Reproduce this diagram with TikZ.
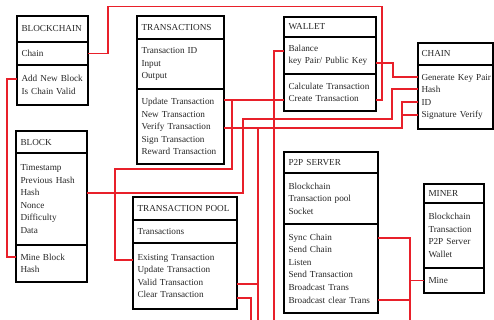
\documentclass[tikz,border=0pt]{standalone}
\usepackage{fontspec}
\setmainfont{Liberation Serif}
\usetikzlibrary{calc}
\definecolor{wirered}{RGB}{232,32,42}

\begin{document}
\begin{tikzpicture}[x=1pt,y=-1pt,
  umlbox/.style={draw=black, line width=1.4pt, anchor=north west, outer sep=0pt,
    inner xsep=4.5pt, inner ysep=0pt, align=left, text=black!85,
    font=\fontsize{9.2}{12.6}\selectfont},
  wire/.style={draw=wirered, line width=1.3pt}]
\useasboundingbox (0,0) rectangle (494,320);
\coordinate (bottom) at (0,326);

% BLOCKCHAIN
\node[umlbox, text width=62pt, minimum height=26pt] (blockchain) at (17,16) {BLOCKCHAIN};
\node[umlbox, text width=62pt, minimum height=23pt] (blockchain-attr) at (blockchain.south west) {Chain};
\node[umlbox, text width=62pt, minimum height=40pt] (blockchain-ops) at (blockchain-attr.south west) {Add New Block\\Is Chain Valid};

% TRANSACTIONS
\node[umlbox, text width=78pt, minimum height=23pt] (transactions) at (137,16) {TRANSACTIONS};
\node[umlbox, text width=78pt, minimum height=50pt] (transactions-attr) at (transactions.south west) {Transaction ID\\Input\\Output};
\node[umlbox, text width=78pt, minimum height=75pt] (transactions-ops) at (transactions-attr.south west) {Update Transaction\\New Transaction\\Verify Transaction\\Sign Transaction\\Reward Transaction};

% WALLET
\node[umlbox, text width=83pt, minimum height=20pt] (wallet) at (284,17) {WALLET};
\node[umlbox, text width=83pt, minimum height=37pt] (wallet-attr) at (wallet.south west) {Balance\\key Pair/ Public Key};
\node[umlbox, text width=83pt, minimum height=37pt] (wallet-ops) at (wallet-attr.south west) {Calculate Transaction\\Create Transaction};

% CHAIN
\node[umlbox, inner xsep=3.5pt, text width=68pt, minimum height=22pt] (chain) at (418,43) {CHAIN};
\node[umlbox, inner xsep=3.5pt, text width=68pt, minimum height=64pt] (chain-ops) at (chain.south west) {\mbox{Generate Key Pair}\\Hash\\ID\\Signature Verify};

% BLOCK
\node[umlbox, text width=62pt, minimum height=22pt] (block) at (16,131) {BLOCK};
\node[umlbox, text width=62pt, minimum height=92pt] (block-attr) at (block.south west) {Timestamp\\Previous Hash\\Hash\\Nonce\\Difficulty\\Data};
\node[umlbox, text width=62pt, minimum height=37pt] (block-ops) at (block-attr.south west) {Mine Block\\Hash};

% TRANSACTION POOL
\node[umlbox, text width=95pt, minimum height=23pt] (pool) at (133,197) {TRANSACTION POOL};
\node[umlbox, text width=95pt, minimum height=23pt] (pool-attr) at (pool.south west) {Transactions};
\node[umlbox, text width=95pt, minimum height=66pt] (pool-ops) at (pool-attr.south west) {Existing Transaction\\Update Transaction\\Valid Transaction\\Clear Transaction};

% P2P SERVER
\node[umlbox, text width=85pt, minimum height=21pt] (p2p) at (284,152) {P2P SERVER};
\node[umlbox, text width=85pt, minimum height=51pt] (p2p-attr) at (p2p.south west) {Blockchain\\Transaction pool\\Socket};
\node[umlbox, text width=85pt, minimum height=89pt] (p2p-ops) at (p2p-attr.south west) {Sync Chain\\Send Chain\\Listen\\Send Transaction\\Broadcast Trans\\Broadcast clear Trans};

% MINER
\node[umlbox, text width=51pt, minimum height=19pt] (miner) at (424,184) {MINER};
\node[umlbox, text width=51pt, minimum height=65pt] (miner-attr) at (miner.south west) {Blockchain\\Transaction\\P2P Server\\Wallet};
\node[umlbox, text width=51pt, minimum height=25pt] (miner-ops) at (miner-attr.south west) {Mine};

% ports
\coordinate (bc-add) at ($(blockchain-ops.north west)+(0,14)$);
\coordinate (block-hash) at ($(block-attr.north east)+(0,40)$);
\coordinate (block-mine) at ($(block-ops.north west)+(0,12)$);
\coordinate (tx-update) at ($(transactions-ops.north east)+(0,11)$);
\coordinate (tx-verify) at ($(transactions-ops.north east)+(0,39)$);
\coordinate (wallet-balance) at ($(wallet-attr.north west)+(0,14)$);
\coordinate (wallet-key) at ($(wallet-attr.north east)+(0,26)$);
\coordinate (wallet-create-l) at ($(wallet-ops.north west)+(0,26)$);
\coordinate (wallet-create-r) at ($(wallet-ops.north east)+(0,26)$);
\coordinate (chain-gen) at ($(chain-ops.north west)+(0,12)$);
\coordinate (chain-hash) at ($(chain-ops.north west)+(0,24)$);
\coordinate (chain-id) at ($(chain-ops.north west)+(0,37)$);
\coordinate (chain-sig) at ($(chain-ops.north west)+(0,50)$);
\coordinate (pool-exist) at ($(pool-ops.north west)+(0,17)$);
\coordinate (pool-valid) at ($(pool-ops.north east)+(0,41)$);
\coordinate (pool-clear) at ($(pool-ops.north east)+(0,55)$);
\coordinate (p2p-sync) at ($(p2p-ops.north east)+(0,14)$);
\coordinate (p2p-bclear) at ($(p2p-ops.north east)+(0,76)$);

% connectors
\draw[wire] (blockchain-attr.east) -- ++(20,0) |- ++(274,-47) |- (wallet-create-r);
\draw[wire] (bc-add) -- ++(-10,0) |- (block-mine);
\draw[wire] (tx-update) -- (wallet-create-l);
\draw[wire] (tx-update) ++(8,0) |- ++(-117,69) |- (pool-exist);
\draw[wire] (block-hash) -- ++(156,0) |- ++(149,-74) |- (chain-hash);
\draw[wire] (wallet-key) -- ++(17,0) |- (chain-gen);
\draw[wire] (tx-verify) -- ++(178,0) |- (chain-id);
\draw[wire] (chain-sig) -- ++(-16,0);
\draw[wire] (tx-verify) ++(34,0) coordinate (verify-drop) -- (verify-drop |- bottom);
\draw[wire] (pool-valid) -- (pool-valid -| verify-drop);
\draw[wire] (pool-clear) -- ++(14,0) coordinate (clear-drop) -- (clear-drop |- bottom);
\draw[wire] (wallet-balance) -- ++(-10,0) coordinate (balance-drop) -- (balance-drop |- bottom);
\draw[wire] (p2p-sync) -- ++(32,0) coordinate (sync-drop) -- (sync-drop |- bottom);
\draw[wire] (p2p-bclear) -- (p2p-bclear -| sync-drop);
\draw[wire] (miner-ops.west) -- (miner-ops.west -| sync-drop);

\end{tikzpicture}
\end{document}
